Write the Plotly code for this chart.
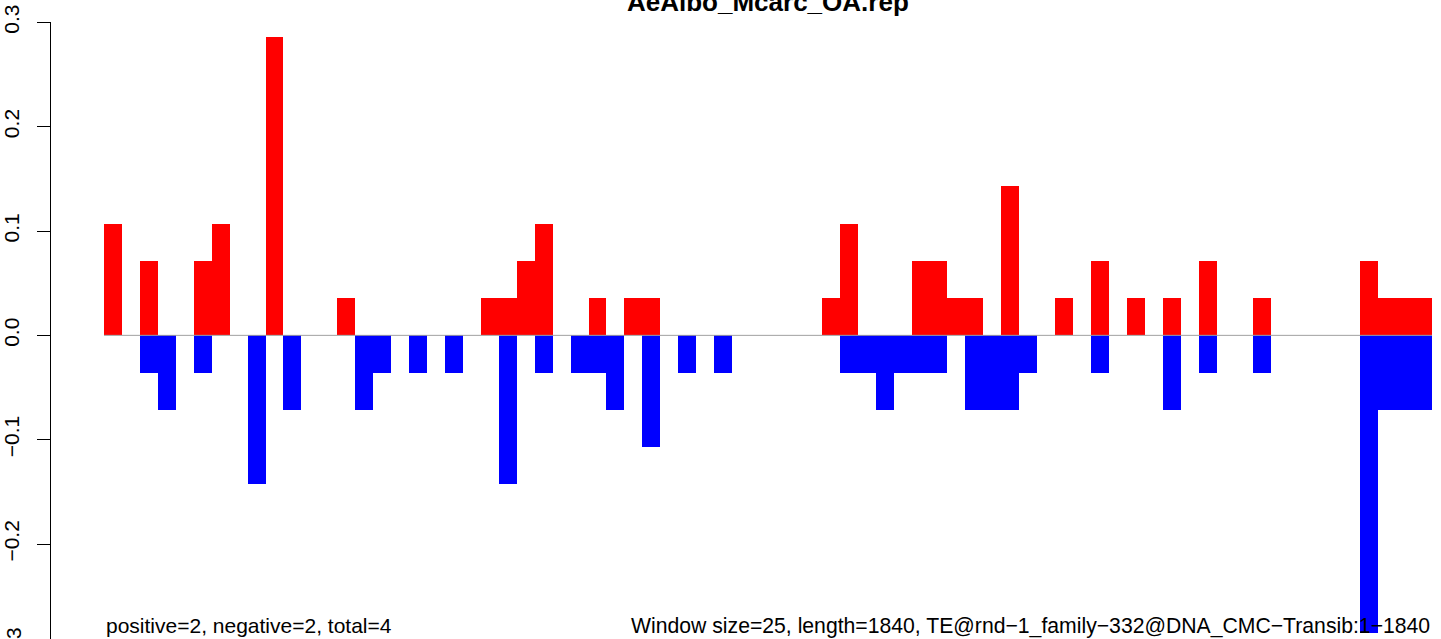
import plotly.graph_objects as go

# ---- data ----
title = "AeAlbo_Mcarc_OA.rep"
windows = list(range(74))  # window index (window size 25, length 1840)

positive = [0.1071, 0, 0.0714, 0, 0, 0.0714, 0.1071, 0, 0, 0.2857,
            0, 0, 0, 0.0357, 0, 0, 0, 0, 0, 0,
            0, 0.0357, 0.0357, 0.0714, 0.1071, 0, 0, 0.0357, 0, 0.0357,
            0.0357, 0, 0, 0, 0, 0, 0, 0, 0, 0,
            0.0357, 0.1071, 0, 0, 0, 0.0714, 0.0714, 0.0357, 0.0357, 0,
            0.1429, 0, 0, 0.0357, 0, 0.0714, 0, 0.0357, 0, 0.0357,
            0, 0.0714, 0, 0, 0.0357, 0, 0, 0, 0, 0,
            0.0714, 0.0357, 0.0357, 0.0357]

negative = [0, 0, -0.0357, -0.0714, 0, -0.0357, 0, 0, -0.1429, 0,
            -0.0714, 0, 0, 0, -0.0714, -0.0357, 0, -0.0357, 0, -0.0357,
            0, 0, -0.1429, 0, -0.0357, 0, -0.0357, -0.0357, -0.0714, 0,
            -0.1071, 0, -0.0357, 0, -0.0357, 0, 0, 0, 0, 0,
            0, -0.0357, -0.0357, -0.0714, -0.0357, -0.0357, -0.0357, 0, -0.0714, -0.0714,
            -0.0714, -0.0357, 0, 0, 0, -0.0357, 0, 0, 0, -0.0714,
            0, -0.0357, 0, 0, -0.0357, 0, 0, 0, 0, 0,
            -0.2857, -0.0714, -0.0714, -0.0714]

ytick_vals = [-0.3, -0.2, -0.1, 0.0, 0.1, 0.2, 0.3]
ytick_text = ["\u22120.3", "\u22120.2", "\u22120.1", "0.0", "0.1", "0.2", "0.3"]

left_note = "positive=2, negative=2, total=4"
right_note = ("Window size=25, length=1840, "
              "TE@rnd\u22121_family\u2212332@DNA_CMC\u2212Transib:1\u22121840")

FONT = "Liberation Sans, Arial, Helvetica, sans-serif"

Y_MIN, Y_MAX = -0.2910, 0.3003
PLOT_TOP, PLOT_H, PLOT_LEFT, PLOT_W = 22, 617, 51, 1390

fig = go.Figure()
fig.add_trace(go.Bar(x=windows, y=positive, width=1, marker=dict(color="#FF0000", line=dict(width=0)),
                     showlegend=False, hoverinfo="skip"))
fig.add_trace(go.Bar(x=windows, y=negative, width=1, marker=dict(color="#0000FF", line=dict(width=0)),
                     showlegend=False, hoverinfo="skip"))

x_first = windows[0] - 0.5
x_last = windows[-1] + 0.5

# zero line over the bar span
fig.add_shape(type="line", xref="x", yref="y", x0=x_first, x1=x_last, y0=0, y1=0,
              line=dict(color="#A0A0A0", width=1), layer="above")

fig.update_layout(
    width=1441, height=639,
    margin=dict(l=PLOT_LEFT, r=0, t=PLOT_TOP, b=0),
    paper_bgcolor="white", plot_bgcolor="white",
    barmode="relative", bargap=0,
    font=dict(family=FONT, color="black", size=21),
    xaxis=dict(range=[-3.453, 74.0], visible=False, showgrid=False, zeroline=False),
    yaxis=dict(range=[Y_MIN, Y_MAX], showgrid=False, zeroline=False,
               showline=True, linecolor="black", linewidth=1,
               ticks="outside", ticklen=13, tickwidth=1, tickcolor="black",
               tickvals=ytick_vals, ticktext=ytick_text, tickangle=-90,
               ticklabelstandoff=10,
               tickfont=dict(family=FONT, size=21, color="black")),
)

# title
fig.add_annotation(text="<b>" + title + "</b>", xref="x", yref="paper",
                   x=(x_first + x_last) / 2, y=1 + (PLOT_TOP - 2.5) / PLOT_H, xanchor="center", yanchor="middle",
                   showarrow=False, font=dict(family=FONT, size=26, color="black"))

# -0.3 tick label (falls just below the visible plot area)
y_m03 = (ytick_vals[0] - Y_MIN) / (Y_MAX - Y_MIN)  # paper coordinate of -0.3
fig.add_annotation(text=ytick_text[0], xref="paper", yref="paper", x=(13.5 - PLOT_LEFT) / PLOT_W, y=y_m03,
                   xanchor="center", yanchor="middle", textangle=-90, showarrow=False,
                   font=dict(family=FONT, size=21, color="black"))

# bottom notes
fig.add_annotation(text=left_note, xref="x", yref="paper", x=x_first, y=(639 - 625.5) / PLOT_H,
                   xanchor="left", yanchor="middle", showarrow=False,
                   font=dict(family=FONT, size=21, color="black"))
fig.add_annotation(text=right_note, xref="x", yref="paper", x=x_last, y=(639 - 625.5) / PLOT_H,
                   xanchor="right", yanchor="middle", showarrow=False,
                   font=dict(family=FONT, size=21.2, color="black"))

fig.write_html("out.html", config={"displayModeBar": False},
               post_script="document.body.style.margin='0';document.body.style.padding='0';")
